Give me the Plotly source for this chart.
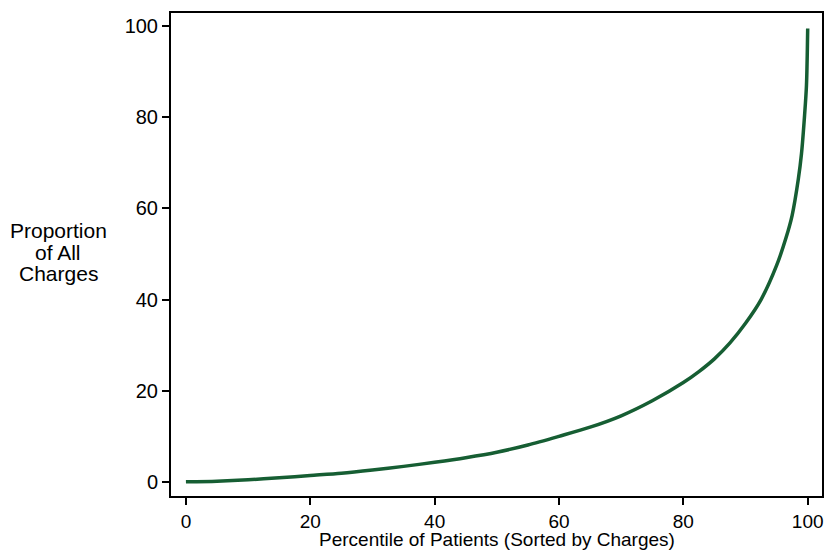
import plotly.graph_objects as go

# cumulative share of charges by patient percentile
pct = [0, 5, 10, 15, 20, 25, 30, 35, 40, 45, 50, 55, 60, 65, 70, 75, 80,
       82.5, 85, 87.5, 90, 92.5, 95, 96.5, 97.5, 98.5, 99, 99.5, 99.8, 100]
share = [0, 0.15, 0.45, 0.9, 1.4, 1.9, 2.6, 3.4, 4.3, 5.3, 6.5, 8.1, 10.0, 12.0,
         14.5, 17.8, 21.8, 24.2, 27.0, 30.5, 34.8, 40.0, 47.5, 53.5, 58.5, 66.5,
         72.0, 80.5, 87.0, 99.5]
tick_vals = [0, 20, 40, 60, 80, 100]
y_title = ["Proportion", "of All", "Charges"]
x_title = "Percentile of Patients (Sorted by Charges)"

font_name = "Liberation Sans, Arial, Helvetica, sans-serif"

fig = go.Figure()
fig.add_trace(go.Scatter(x = pct, y = share, mode = 'lines', showlegend = False,
    line = dict(color = '#165e33', width = 3.5, shape = 'spline', smoothing = 0.8)))

fig.update_layout(template = 'none', width = 829, height = 550, autosize = False,
    margin = dict(l = 171, r = 7, t = 13, b = 54, pad = 0),
    paper_bgcolor = '#ffffff', plot_bgcolor = '#ffffff',
    font = dict(family = font_name, size = 20, color = '#000000'))

fig.update_xaxes(range = [-2.4, 102.3], tickvals = tick_vals, showgrid = False, zeroline = False,
    showline = True, linewidth = 2, linecolor = '#000000', mirror = True, automargin = False,
    ticks = 'outside', ticklen = 7, tickwidth = 1.5, tickcolor = '#000000', tickfont = dict(size = 19))
fig.update_yaxes(range = [-3.1, 102.9], tickvals = tick_vals, showgrid = False, zeroline = False,
    showline = True, linewidth = 2, linecolor = '#000000', mirror = True, automargin = False,
    ticks = 'outside', ticklen = 7, tickwidth = 1.5, tickcolor = '#000000')

# stacked, tightly spaced y title lines like the Stata original
for line_text, shift in zip(y_title, [24, 2, -19]):
    fig.add_annotation(text = line_text, xref = 'paper', yref = 'paper', x = 0, y = 0.5,
        xshift = -113, yshift = shift, xanchor = 'center', yanchor = 'middle',
        showarrow = False, font = dict(size = 21))
fig.add_annotation(text = x_title, xref = 'paper', yref = 'paper',
    x = 0.5, y = 0, yshift = -43, xanchor = 'center', yanchor = 'middle',
    showarrow = False, font = dict(size = 19))

# drop the browser's default body margin so the figure sits at the window corner
fig.write_html("out.html", config = {'displayModeBar': False},
    post_script = "document.body.style.margin = '0px';")
